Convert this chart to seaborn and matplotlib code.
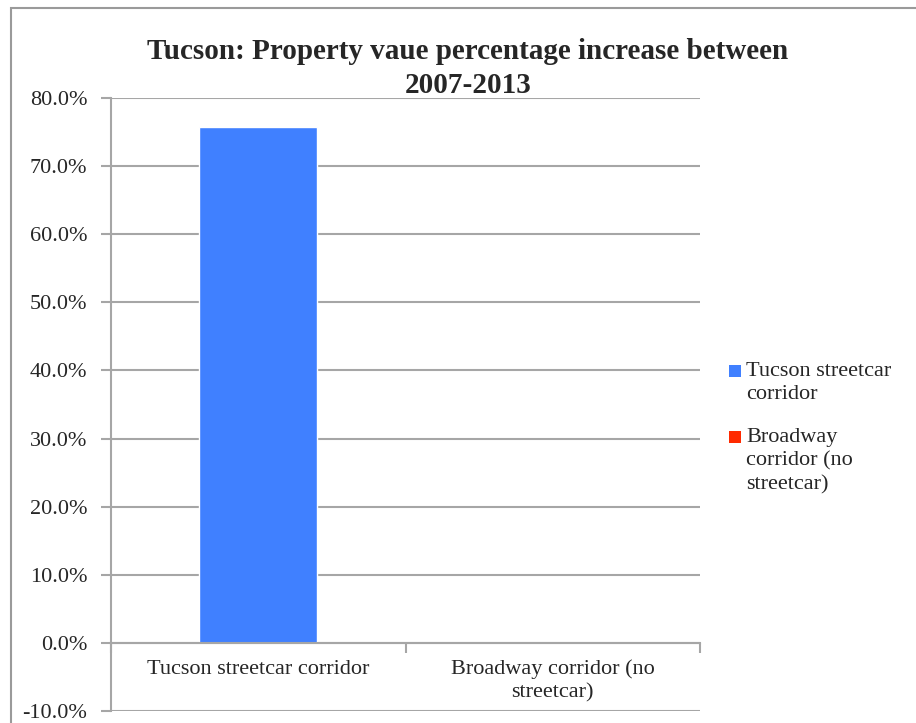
import numpy as np
import pandas as pd
import matplotlib.pyplot as plt
import seaborn as sns
from matplotlib.patches import Rectangle
from matplotlib.ticker import FuncFormatter

categories = ["Tucson streetcar corridor", "Broadway corridor (no streetcar)"]
tick_labels = ["Tucson streetcar corridor", "Broadway corridor (no\nstreetcar)"]
legend_labels = ["Tucson streetcar\ncorridor", "Broadway\ncorridor (no\nstreetcar)"]
values = [75.8, 0.0]
colors = ["#4080FF", "#FF2A00"]

sns.set_style("white")
plt.rcParams['font.family'] = ['Liberation Serif', 'DejaVu Serif']

GRID = "#a6a6a6"
W, H = 916, 723

df = pd.DataFrame({"Category": categories, "Value": values})

fig = plt.figure(figsize=(W / 100, H / 100), dpi=100)
ax = fig.add_axes([111 / W, 1 - 711 / H, (700 - 111) / W, (711 - 98) / H])

# outer frame like the spreadsheet chart border
fig.add_artist(Rectangle((11 / W, -0.01), 1.0, 1 - 8 / H + 0.01,
                         transform=fig.transFigure, fill=False,
                         edgecolor="#9a9a9a", linewidth=1.5))

sns.barplot(data=df, x="Category", y="Value", hue="Category",
            palette=colors, width=0.40, dodge=False, legend=False,
            saturation=1, ax=ax)

ax.set_ylim(-10, 80)
ax.set_xlim(-0.5, 1.5)
ax.set_yticks(np.arange(-10, 81, 10))
ax.yaxis.set_major_formatter(FuncFormatter(lambda v, p: "{:.1f}%".format(v)))
ax.yaxis.grid(True, color=GRID, linewidth=1.5)
ax.set_axisbelow(True)
ax.tick_params(axis="y", labelsize=16, length=7, width=1.5, color=GRID,
               direction="out", left=True, pad=10)

# x axis sits on the zero line
ax.spines["bottom"].set_position(("data", 0))
for side in ["bottom", "left"]:
    ax.spines[side].set_color(GRID)
    ax.spines[side].set_linewidth(1.5)
ax.spines["top"].set_visible(False)
ax.spines["right"].set_visible(False)

ax.set_xticks([-0.5, 0.5, 1.5])
ax.set_xticklabels([])
ax.set_xticks([0, 1], minor=True)
ax.set_xticklabels(tick_labels, minor=True, fontsize=16, linespacing=1.3)
ax.tick_params(axis="x", which="major", length=7, width=1.5, color=GRID,
               direction="out", bottom=True)
ax.tick_params(axis="x", which="minor", length=0, pad=12)
ax.set_xlabel("")
ax.set_ylabel("")

fig.text(468 / W, 1 - 38 / H,
         "Tucson: Property vaue percentage increase between\n2007-2013",
         ha="center", va="top", fontsize=21, fontweight="bold", linespacing=1.35)

# legend: square aligned with the first line of each label
legend_tops = [362, 428]
for lab, col, top in zip(legend_labels, colors, legend_tops):
    fig.add_artist(Rectangle((729 / W, 1 - (top + 15) / H), 12 / W, 12 / H,
                             transform=fig.transFigure, facecolor=col,
                             edgecolor="none"))
    fig.text(746 / W, 1 - top / H, lab, ha="left", va="top",
             fontsize=16, linespacing=1.3)

fig.savefig("out.png", dpi=100)
